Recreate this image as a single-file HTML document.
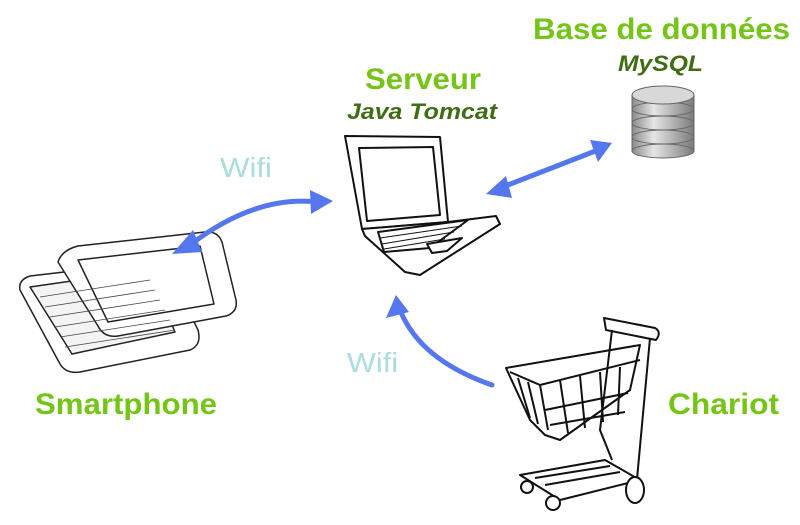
<!DOCTYPE html>
<html><head><meta charset="utf-8"><style>
html,body{margin:0;padding:0;background:#fff;width:800px;height:525px;overflow:hidden}
svg{display:block}
text{font-family:"Liberation Sans",sans-serif;font-weight:bold}
</style></head><body>
<svg width="800" height="525" viewBox="0 0 800 525" xmlns="http://www.w3.org/2000/svg">
<defs>
<linearGradient id="g" x1="0" x2="1">
<stop offset="0" stop-color="#8a8a8a"/><stop offset="0.35" stop-color="#e6e6e6"/><stop offset="1" stop-color="#7a7a7a"/>
</linearGradient>
</defs>

<!-- smartphone -->
<g stroke="#222" stroke-width="1.5" fill="#fff" stroke-linejoin="round">
<path d="M20 290 Q18 280 30 276 L150 262 Q160 261 168 268 L198 330 Q202 345 190 350 L80 372 Q66 374 60 364 Z"/>
<path d="M30 287 L148 270 L175 332 L72 354 Z" fill="#f4f4f4"/>
<path d="M58 262 Q62 250 78 246 L205 232 Q218 231 222 242 L236 300 Q238 312 226 316 L118 336 Q104 338 98 326 Z"/>
<path d="M78 260 L200 246 L214 304 L108 322 Z" fill="#fff"/>
</g>
<g stroke="#444" stroke-width="0.8">
<line x1="40" y1="297" x2="150" y2="280"/><line x1="45" y1="307" x2="155" y2="290"/><line x1="50" y1="317" x2="160" y2="300"/><line x1="55" y1="327" x2="165" y2="310"/><line x1="60" y1="337" x2="170" y2="320"/><line x1="65" y1="347" x2="175" y2="330"/>
</g>

<!-- labels -->
<text x="533" y="39" font-size="30" fill="#74c516" textLength="257" lengthAdjust="spacingAndGlyphs">Base de données</text>
<text x="618" y="71" font-size="22" fill="#3f6d14" font-style="italic" textLength="85" lengthAdjust="spacingAndGlyphs">MySQL</text>
<text x="365" y="89" font-size="30" fill="#74c516" textLength="116" lengthAdjust="spacingAndGlyphs">Serveur</text>
<text x="347" y="119" font-size="22" fill="#3f6d14" font-style="italic" textLength="150" lengthAdjust="spacingAndGlyphs">Java Tomcat</text>
<text x="220" y="177" font-size="28" fill="#aadddd" style="font-weight:normal" textLength="52" lengthAdjust="spacingAndGlyphs">Wifi</text>
<text x="347" y="372" font-size="28" fill="#aadddd" style="font-weight:normal" textLength="51" lengthAdjust="spacingAndGlyphs">Wifi</text>
<text x="35" y="414" font-size="30" fill="#74c516" textLength="182" lengthAdjust="spacingAndGlyphs">Smartphone</text>
<text x="668" y="414" font-size="30" fill="#74c516" textLength="111" lengthAdjust="spacingAndGlyphs">Chariot</text>

<!-- arrows -->
<g stroke="#5577ee" stroke-width="5" fill="none" stroke-linecap="round">
<path d="M190 245 Q255 195 318 202"/>
<line x1="500" y1="188" x2="598" y2="150"/>
<path d="M492 385 Q420 360 400 310"/>
</g>
<g fill="#5577ee">
<polygon points="172,254 193,230 202,252"/>
<polygon points="333,201 310,190 311,214"/>
<polygon points="486,194 506,176 512,198"/>
<polygon points="612,143 590,140 598,162"/>
<polygon points="396,295 386,318 409,312"/>
</g>

<!-- laptop -->
<g stroke="#111" stroke-width="2" fill="#fff" stroke-linejoin="round">
<polygon points="345,136 440,137 448,222 362,229"/>
<polygon points="359,148 433,147 440,215 367,221"/>
<polygon points="362,229 448,222 496,216 500,224 420,275 405,272 365,236"/>
<polygon points="378,232 468,220 430,248 384,252" fill="#fff"/>
<polygon points="427,244 462,238 447,251 432,253"/>
</g>
<g stroke="#111" stroke-width="1">
<line x1="380" y1="238" x2="462" y2="226"/><line x1="382" y1="244" x2="454" y2="232"/><line x1="384" y1="249" x2="445" y2="239"/>
</g>

<!-- database -->
<g stroke="#666" stroke-width="1">
<rect x="632" y="95" width="62" height="56" fill="url(#g)"/>
<ellipse cx="663" cy="151" rx="31" ry="7" fill="url(#g)"/>
<ellipse cx="663" cy="137" rx="31" ry="7" fill="url(#g)"/>
<ellipse cx="663" cy="123" rx="31" ry="7" fill="url(#g)"/>
<ellipse cx="663" cy="109" rx="31" ry="7" fill="url(#g)"/>
<ellipse cx="663" cy="95" rx="31" ry="9" fill="#d8d8d8"/>
</g>

<!-- cart -->
<g stroke="#111" stroke-width="2" fill="none" stroke-linejoin="round">
<path d="M604 318 L655 328 Q662 332 656 340 L606 330 Z" fill="#fff"/>
<path d="M612 330 L600 430 L612 460"/>
<path d="M650 338 L636 490"/>
<path d="M506 368 L640 345 L630 390 L560 440 L545 435 L530 420 Z"/>
<path d="M510 372 L540 385 L640 360"/>
<path d="M540 385 L548 430"/>
<line x1="545" y1="410" x2="628" y2="393"/><line x1="550" y1="425" x2="625" y2="412"/>
<line x1="560" y1="380" x2="568" y2="433"/><line x1="580" y1="376" x2="585" y2="428"/><line x1="600" y1="372" x2="603" y2="422"/><line x1="620" y1="367" x2="618" y2="415"/>
<line x1="518" y1="378" x2="530" y2="418"/><line x1="528" y1="382" x2="538" y2="424"/>
<path d="M520 475 L605 460 L640 480 L560 500 Z" fill="#fff"/>
<line x1="535" y1="478" x2="610" y2="466"/><line x1="545" y1="485" x2="620" y2="472"/>
<circle cx="527" cy="487" r="6" fill="#fff"/>
<circle cx="553" cy="503" r="7" fill="#fff"/>
<ellipse cx="635" cy="490" rx="9" ry="13" fill="#fff"/>
</g>
</svg>
</body></html>
